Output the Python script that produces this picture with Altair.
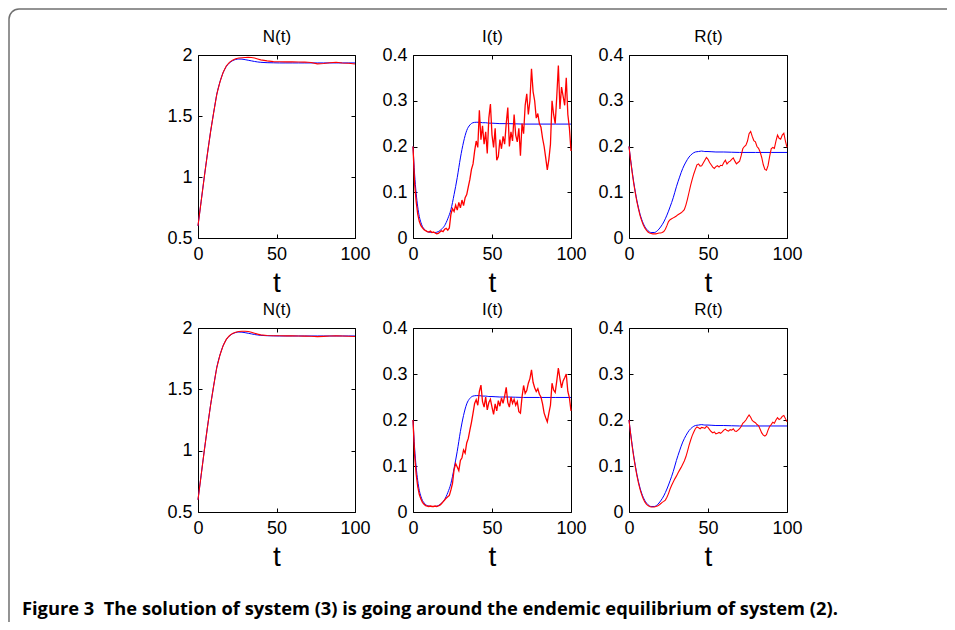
import altair as alt
import pandas as pd

# ---------------- data ----------------
t_red = list(range(101))
t_blue = [0, 1, 2, 3, 4, 5, 6, 7, 8, 9, 10, 12, 14, 16, 18, 20, 22, 24, 26, 28, 30,
          32, 34, 36, 38, 40, 42, 44, 46, 48, 50, 55, 60, 70, 80, 90, 100]
t_N = [0, 2, 4, 6, 8, 10, 12, 14, 16, 18, 20, 22, 24, 26, 28, 30, 32, 34, 36, 38, 40,
       44, 48, 52, 56, 60, 64, 68, 72, 76, 80, 84, 88, 92, 96, 100]

N_blue = [0.60, 0.80, 1.00, 1.19, 1.37, 1.53, 1.68, 1.78, 1.855, 1.905, 1.935, 1.953,
          1.963, 1.967, 1.966, 1.962, 1.957, 1.952, 1.947, 1.943, 1.940, 1.937, 1.936,
          1.935, 1.935, 1.935, 1.935, 1.935, 1.935, 1.935, 1.935, 1.935, 1.935, 1.935,
          1.935, 1.935]
N_red_top = [0.60, 0.80, 1.00, 1.19, 1.37, 1.53, 1.68, 1.78, 1.857, 1.910, 1.940, 1.958,
             1.969, 1.975, 1.978, 1.980, 1.981, 1.980, 1.976, 1.968, 1.960, 1.952, 1.946,
             1.945, 1.944, 1.945, 1.943, 1.942, 1.938, 1.927, 1.930, 1.936, 1.941, 1.935,
             1.932, 1.926]
N_red_bot = [0.60, 0.80, 1.00, 1.19, 1.37, 1.53, 1.68, 1.78, 1.856, 1.907, 1.937, 1.956,
             1.966, 1.971, 1.974, 1.974, 1.971, 1.966, 1.958, 1.950, 1.944, 1.939, 1.937,
             1.937, 1.936, 1.936, 1.935, 1.934, 1.933, 1.930, 1.932, 1.935, 1.937, 1.935,
             1.933, 1.931]

I_blue = [0.200, 0.140, 0.098, 0.068, 0.047, 0.034, 0.025, 0.020, 0.016, 0.014, 0.013,
          0.012, 0.012, 0.014, 0.019, 0.027, 0.042, 0.062, 0.095, 0.132, 0.175, 0.210,
          0.235, 0.247, 0.252, 0.253, 0.253, 0.252, 0.252, 0.251, 0.251, 0.250, 0.250,
          0.249, 0.249, 0.249, 0.249]
R_blue = [0.200, 0.172, 0.146, 0.122, 0.101, 0.082, 0.066, 0.052, 0.041, 0.032, 0.025,
          0.016, 0.012, 0.012, 0.016, 0.024, 0.035, 0.050, 0.068, 0.088, 0.112, 0.133,
          0.152, 0.166, 0.177, 0.184, 0.188, 0.189, 0.190, 0.189, 0.189, 0.188, 0.188,
          0.187, 0.187, 0.187, 0.187]

I_red_top = [0.200, 0.120, 0.080, 0.052, 0.036, 0.027, 0.022, 0.018, 0.016, 0.014,
             0.013, 0.015, 0.012, 0.013, 0.011, 0.009, 0.010, 0.013, 0.016, 0.014,
             0.019, 0.021, 0.017, 0.022, 0.052, 0.064, 0.058, 0.072, 0.061, 0.078,
             0.066, 0.083, 0.071, 0.088, 0.095, 0.112, 0.128, 0.150, 0.162, 0.190,
             0.212, 0.198, 0.279, 0.215, 0.245, 0.205, 0.232, 0.185, 0.262, 0.293,
             0.225, 0.198, 0.240, 0.170, 0.178, 0.215, 0.195, 0.222, 0.205, 0.250,
             0.285, 0.200, 0.232, 0.212, 0.270, 0.225, 0.210, 0.240, 0.180, 0.250,
             0.228, 0.290, 0.315, 0.270, 0.300, 0.370, 0.320, 0.300, 0.262, 0.272,
             0.250, 0.242, 0.218, 0.200, 0.175, 0.149, 0.172, 0.205, 0.300, 0.270,
             0.250, 0.310, 0.377, 0.282, 0.330, 0.310, 0.290, 0.350, 0.270, 0.240,
             0.190]
I_red_bot = [0.200, 0.125, 0.082, 0.055, 0.038, 0.028, 0.021, 0.017, 0.014, 0.013,
             0.012, 0.013, 0.012, 0.012, 0.013, 0.012, 0.013, 0.015, 0.018, 0.022,
             0.026, 0.030, 0.033, 0.036, 0.048, 0.062, 0.092, 0.105, 0.098, 0.090,
             0.112, 0.118, 0.135, 0.128, 0.150, 0.160, 0.178, 0.195, 0.215, 0.236,
             0.244, 0.232, 0.262, 0.276, 0.240, 0.228, 0.250, 0.222, 0.238, 0.245,
             0.228, 0.212, 0.235, 0.220, 0.242, 0.230, 0.248, 0.236, 0.252, 0.271,
             0.238, 0.228, 0.250, 0.236, 0.245, 0.232, 0.240, 0.218, 0.215, 0.250,
             0.275, 0.258, 0.264, 0.280, 0.290, 0.309, 0.282, 0.270, 0.262, 0.268,
             0.256, 0.250, 0.235, 0.215, 0.205, 0.196, 0.215, 0.232, 0.280, 0.265,
             0.260, 0.285, 0.313, 0.290, 0.270, 0.285, 0.292, 0.300, 0.262, 0.248,
             0.220]
R_red_top = [0.200, 0.170, 0.143, 0.119, 0.098, 0.079, 0.063, 0.049, 0.038, 0.029,
             0.022, 0.017, 0.013, 0.011, 0.010, 0.009, 0.009, 0.009, 0.010, 0.011,
             0.011, 0.012, 0.014, 0.019, 0.027, 0.036, 0.040, 0.042, 0.044, 0.046,
             0.048, 0.051, 0.053, 0.055, 0.058, 0.062, 0.072, 0.085, 0.100, 0.115,
             0.128, 0.140, 0.150, 0.160, 0.162, 0.157, 0.158, 0.164, 0.170, 0.176,
             0.172, 0.165, 0.160, 0.155, 0.152, 0.156, 0.158, 0.155, 0.159, 0.158,
             0.165, 0.170, 0.162, 0.166, 0.168, 0.172, 0.175, 0.168, 0.162, 0.165,
             0.168, 0.180, 0.195, 0.200, 0.203, 0.212, 0.228, 0.233, 0.222, 0.213,
             0.210, 0.200, 0.196, 0.188, 0.176, 0.160, 0.150, 0.148, 0.158, 0.178,
             0.195, 0.198, 0.196, 0.212, 0.225, 0.218, 0.216, 0.225, 0.229, 0.212,
             0.198]
R_red_bot = [0.200, 0.170, 0.143, 0.119, 0.098, 0.079, 0.063, 0.049, 0.038, 0.029,
             0.022, 0.017, 0.014, 0.012, 0.011, 0.011, 0.011, 0.012, 0.013, 0.015,
             0.018, 0.021, 0.023, 0.026, 0.032, 0.040, 0.050, 0.058, 0.065, 0.072,
             0.078, 0.085, 0.091, 0.097, 0.104, 0.111, 0.120, 0.132, 0.145, 0.156,
             0.166, 0.174, 0.181, 0.185, 0.183, 0.181, 0.184, 0.183, 0.182, 0.186,
             0.184, 0.179, 0.175, 0.172, 0.174, 0.170, 0.171, 0.173, 0.171, 0.174,
             0.178, 0.180, 0.177, 0.176, 0.179, 0.178, 0.181, 0.176, 0.175, 0.178,
             0.181, 0.186, 0.193, 0.196, 0.200, 0.206, 0.211, 0.206, 0.199, 0.196,
             0.194, 0.190, 0.188, 0.180, 0.172, 0.167, 0.165, 0.168, 0.178, 0.186,
             0.190, 0.195, 0.193, 0.200, 0.205, 0.201, 0.203, 0.208, 0.210, 0.203,
             0.196]

x_ticks = [0, 50, 100]
yN_ticks = [0.5, 1, 1.5, 2]
yIR_ticks = [0, 0.1, 0.2, 0.3, 0.4]
panel_titles = ["N(t)", "I(t)", "R(t)"]
x_title = "t"
caption = "Figure 3\u00a0\u00a0The solution of system (3) is going around the endemic equilibrium of system (2)."

# ---------------- layout ----------------
W, H = 959, 634
COLS = [(189, 346), (404, 562), (620, 778)]
ROWS = [(46, 229), (319, 503)]
BLUE, RED = "#0000ff", "#ff0000"


def panel(tb, vb, tr, vr, ylo, yhi, yticks, title, col, row, red_width):
    x0, x1 = COLS[col]
    y0, y1 = ROWS[row]
    xs = alt.Scale(domain=[0, 100], range=[x0, x1], nice=False, zero=False)
    ys = alt.Scale(domain=[ylo, yhi], range=[y1, y0], nice=False, zero=False)
    dfb = pd.DataFrame({"t": tb, "v": vb})
    dfr = pd.DataFrame({"t": tr, "v": vr})

    a = alt.Chart(dfb).mark_line(color=BLUE, strokeWidth=1, interpolate="monotone").encode(
        x=alt.X("t:Q", scale=xs, title=x_title,
                axis=alt.Axis(orient="bottom", offset=y1 - H, values=x_ticks, format="~f",
                              ticks=False, tickSize=0, labelPadding=7, domain=True,
                              labelFlush=False, labelOverlap=False,
                              titleFontSize=28, titleY=53, titleBaseline="alphabetic")),
        y=alt.Y("v:Q", scale=ys, title=None,
                axis=alt.Axis(orient="left", offset=-x0, values=yticks, format="~f",
                              ticks=False, tickSize=0, labelPadding=6, domain=True,
                              labelFlush=False, labelOverlap=False)),
    )
    b = alt.Chart(dfr).mark_line(color=RED, strokeWidth=red_width).encode(
        x=alt.X("t:Q", scale=xs, title=None,
                axis=alt.Axis(orient="top", offset=-y1, values=x_ticks, labels=False,
                              ticks=True, tickSize=4, domain=False)),
        y=alt.Y("v:Q", scale=ys, title=None,
                axis=alt.Axis(orient="right", offset=x0 - W, values=yticks, labels=False,
                              ticks=True, tickSize=4, domain=False)),
    )
    c = alt.Chart(dfb).mark_line(strokeOpacity=0).encode(
        x=alt.X("t:Q", scale=xs, title=title,
                axis=alt.Axis(orient="bottom", offset=y0 - H, values=x_ticks, labels=False,
                              ticks=True, tickSize=4, domain=True, titleFontSize=17,
                              titleY=-14, titleBaseline="alphabetic")),
        y=alt.Y("v:Q", scale=ys, title=None,
                axis=alt.Axis(orient="left", offset=-x1, values=yticks, labels=False,
                              ticks=True, tickSize=4, domain=True)),
    )
    return [a, b, c]


layers = []
layers += panel(t_N, N_blue, t_N, N_red_top, 0.5, 2, yN_ticks, panel_titles[0], 0, 0, 1.1)
layers += panel(t_blue, I_blue, t_red, I_red_top, 0, 0.4, yIR_ticks, panel_titles[1], 1, 0, 1.3)
layers += panel(t_blue, R_blue, t_red, R_red_top, 0, 0.4, yIR_ticks, panel_titles[2], 2, 0, 1.1)
layers += panel(t_N, N_blue, t_N, N_red_bot, 0.5, 2, yN_ticks, panel_titles[0], 0, 1, 1.1)
layers += panel(t_blue, I_blue, t_red, I_red_bot, 0, 0.4, yIR_ticks, panel_titles[1], 1, 1, 1.3)
layers += panel(t_blue, R_blue, t_red, R_red_bot, 0, 0.4, yIR_ticks, panel_titles[2], 2, 1, 1.1)

chart = (
    alt.layer(*layers)
    .resolve_scale(x="independent", y="independent")
    .resolve_axis(x="independent", y="independent")
    .properties(
        width=W,
        height=H,
        padding={"left": 1, "top": 1, "right": -21, "bottom": -21},
        autosize=alt.AutoSizeParams(type="none"),
        title=alt.TitleParams(
            text=caption, orient="bottom", anchor="start", frame="group",
            offset=-28, dx=13, baseline="alphabetic", font="Open Sans",
            fontSize=18.3, fontWeight="bold", color="black",
        ),
    )
    .configure_view(stroke="#707070", strokeWidth=1.5, cornerRadius=10)
    .configure_axis(
        labelFont="Liberation Sans", labelFontSize=18, labelColor="black",
        titleFont="Liberation Sans", titleFontWeight="normal", titleColor="black",
        domainColor="black", domainWidth=1, tickColor="black", tickWidth=1, grid=False,
    )
)

chart.save("out.html", embed_options={"renderer": "svg", "actions": False})
